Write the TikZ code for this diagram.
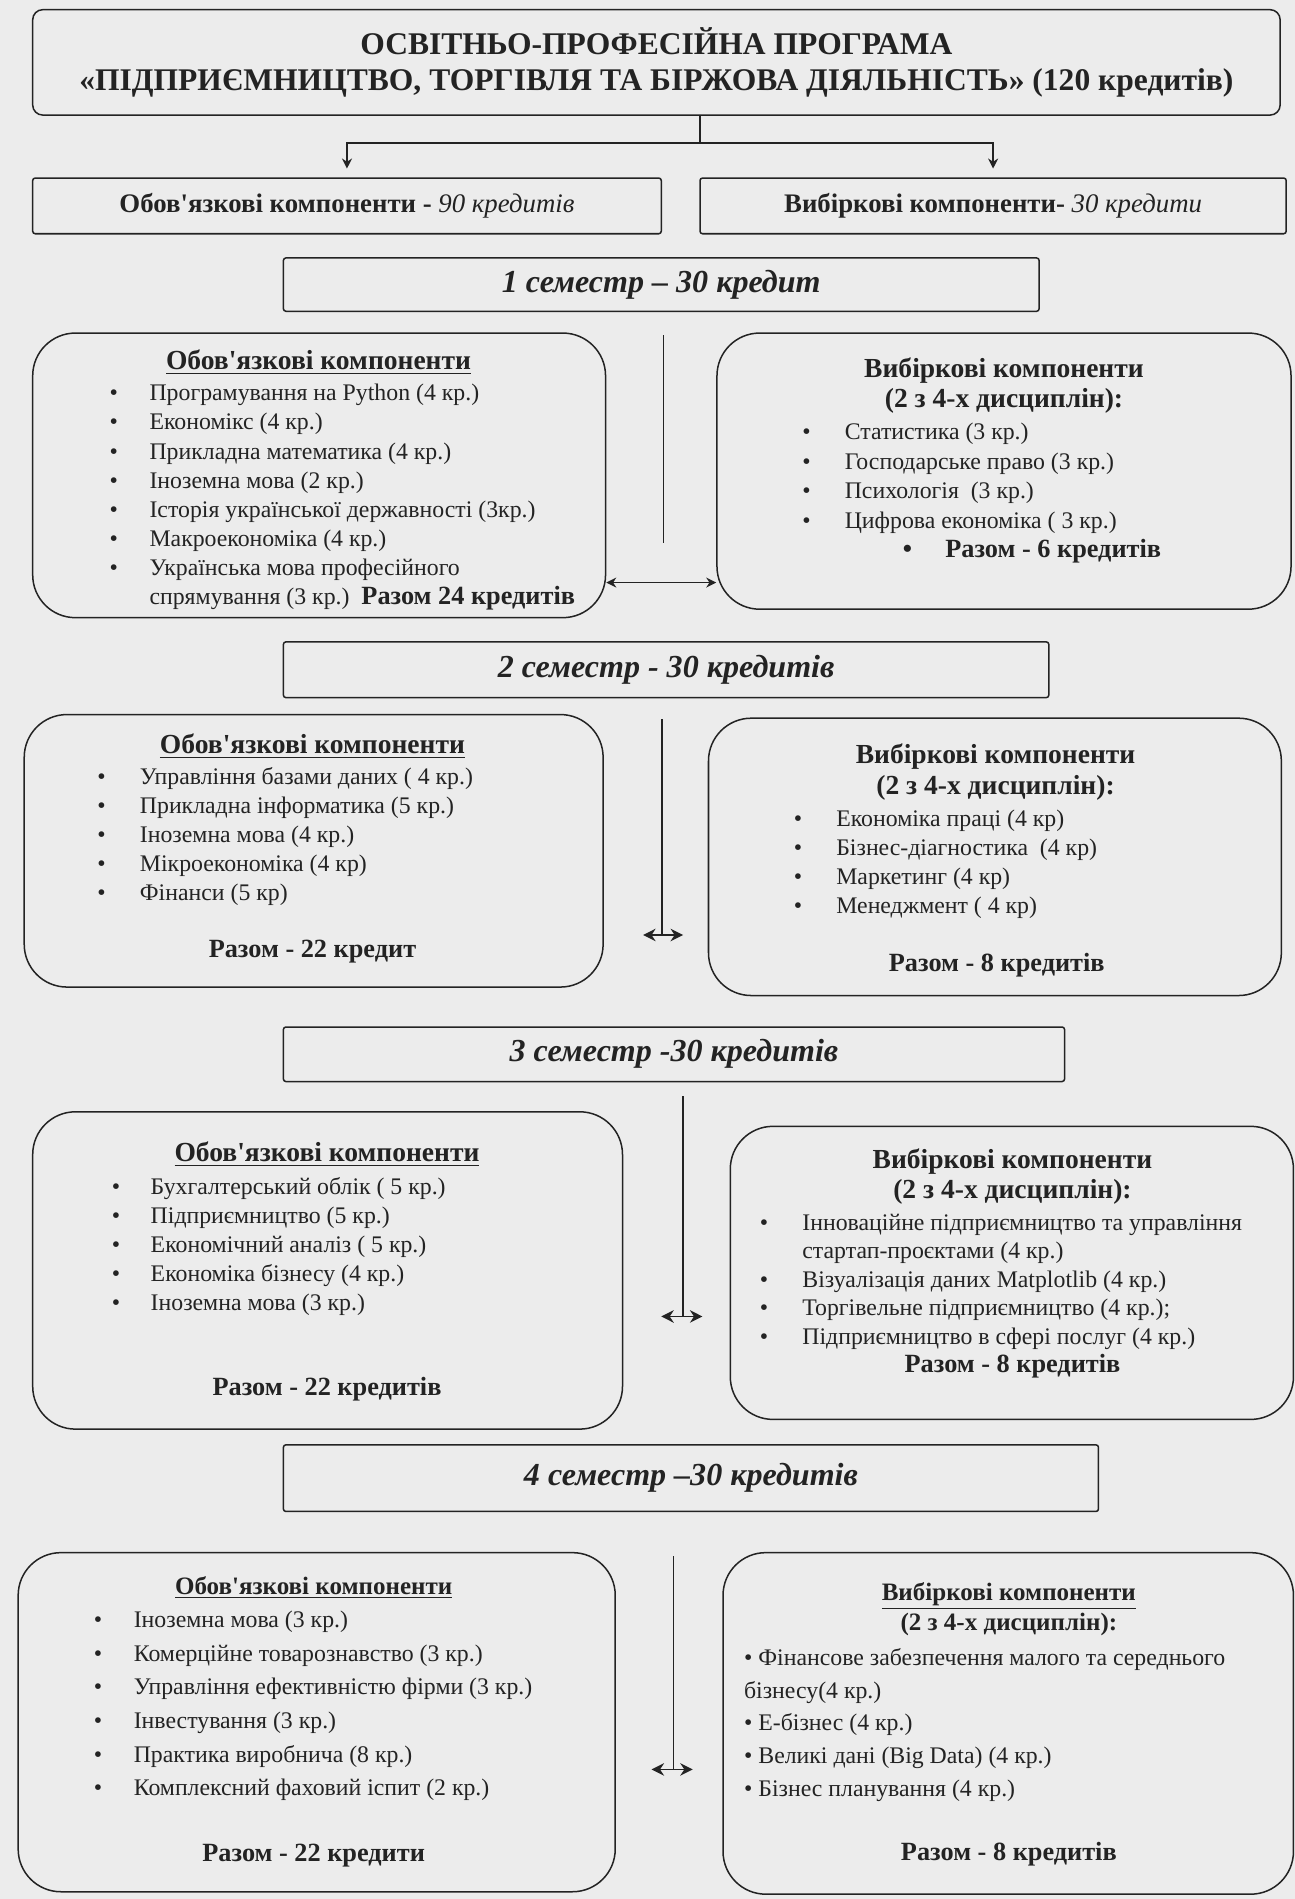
\documentclass[tikz,border=0pt]{standalone}
\usepackage{fontspec}
\setmainfont{Liberation Serif}
\usetikzlibrary{arrows.meta}

\definecolor{paper}{RGB}{236,236,236}
\definecolor{ink}{RGB}{35,35,35}
\newcommand{\itm}[2][16pt]{\makebox[#1][l]{\textbullet}#2}

\begin{document}
\begin{tikzpicture}[x=0.017cm,y=-0.017cm,>={Stealth[length=4pt,width=4pt]},
    every node/.style={inner sep=0pt,text=ink},
    sized/.style 2 args={minimum width=#1*0.017cm,minimum height=#2*0.017cm},
    frame/.style={draw=ink,line width=0.6pt},
    bar/.style={frame,rounded corners=1pt,font=\fontsize{10.7}{12}\selectfont},
    sembar/.style={frame,rounded corners=1pt,font=\fontsize{12.8}{14}\selectfont\bfseries\itshape},
    card/.style={frame,rounded corners=0.6cm},
    head/.style={align=center,font=\fontsize{11}{12}\selectfont\bfseries},
    lst/.style={anchor=north west,align=left,font=\fontsize{9.5}{11.6}\selectfont},
    total/.style={font=\fontsize{10.5}{12}\selectfont\bfseries},
    wire/.style={draw=ink,line width=0.6pt},
    swap/.style={wire,{Stealth[length=5pt,width=5pt]}-{Stealth[length=5pt,width=5pt]}}]
    \fill[paper] (0,0) rectangle (1069,1568);

    % title and the two groups of components
    \node[frame,rounded corners=0.14cm,sized={1030}{87},align=center,
        font=\fontsize{12.6}{14.5}\selectfont\bfseries] (title) at (542,51.5)
        {ОСВІТНЬО-ПРОФЕСІЙНА ПРОГРАМА\\
         «ПІДПРИЄМНИЦТВО, ТОРГІВЛЯ ТА БІРЖОВА ДІЯЛЬНІСТЬ» (120 кредитів)};
    \node[bar,sized={519}{46}] (oblig) at (286.5,170)
        {\textbf{Обов\textquotesingle язкові компоненти -} \textit{90 кредитів}};
    \node[bar,sized={484}{46}] (elect) at (820,170)
        {\textbf{Вибіркові компоненти-} \textit{30 кредити}};
    \coordinate (split) at (578,118);
    \draw[wire] (split |- title.south) -- (split);
    \draw[wire,->,shorten >=3.5pt] (split) -| (oblig.north);
    \draw[wire,->,shorten >=3.5pt] (split) -| (elect.north);

    % semester 1
    \node[sembar,sized={624}{44}] (sem1) at (546,235) {1 семестр – 30 кредит};
    \node[card,sized={473}{235}] (s1l) at (263.5,392.5) {};
    \node[card,sized={474}{228}] (s1r) at (829,389) {};
    \node[head] (h1l) at (263,299) {\underline{Обов\textquotesingle язкові компоненти}};
    \node[lst] (l1l) at (90,317) {\itm{Програмування на Python (4 кр.)}\\
        \itm{Економікс (4 кр.)}\\
        \itm{Прикладна математика (4 кр.)}\\
        \itm{Іноземна мова (2 кр.)}\\
        \itm{Історія української державності (3кр.)}\\
        \itm{Макроекономіка (4 кр.)}\\
        \itm{Українська мова професійного}\\
        \hspace*{16pt}спрямування (3 кр.)\ \ {\fontsize{10.5}{11.6}\selectfont\bfseries Разом 24 кредитів}};
    \node[head,font=\fontsize{11}{12.1}\selectfont\bfseries] (h1r) at (829,318.5)
        {Вибіркові компоненти\\(2 з 4-х дисциплін):};
    \node[lst,font=\fontsize{9.5}{11.8}\selectfont] (l1r) at (662,349)
        {\itm[17pt]{Статистика (3 кр.)}\\
        \itm[17pt]{Господарське право (3 кр.)}\\
        \itm[17pt]{Психологія\ \ (3 кр.)}\\
        \itm[17pt]{Цифрова економіка ( 3 кр.)}};
    \node[total,anchor=west] (t1r) at (745,455) {\itm[17pt]{Разом - 6 кредитів}};
    \coordinate (v1a) at (548,277);
    \coordinate (v1b) at (548,448);
    \coordinate (m1) at (548,481);
    \draw[wire] (v1a) -- (v1b);
    \draw[wire,<->] (s1l.east |- m1) -- (s1r.west |- m1);

    % semester 2
    \node[sembar,sized={632}{46}] (sem2) at (550,553) {2 семестр - 30 кредитів};
    \node[card,sized={478}{225}] (s2l) at (259,702.5) {};
    \node[card,sized={473}{229}] (s2r) at (821.5,707.5) {};
    \node[head] (h2l) at (258,616) {\underline{Обов\textquotesingle язкові компоненти}};
    \node[lst] (l2l) at (80,633) {\itm[17pt]{Управління базами даних ( 4 кр.)}\\
        \itm[17pt]{Прикладна інформатика (5 кр.)}\\
        \itm[17pt]{Іноземна мова (4 кр.)}\\
        \itm[17pt]{Мікроекономіка (4 кр)}\\
        \itm[17pt]{Фінанси (5 кр)}};
    \node[total] (t2l) at (258,786) {Разом - 22 кредит};
    \node[head,font=\fontsize{11}{12.1}\selectfont\bfseries] (h2r) at (822,637.5)
        {Вибіркові компоненти\\(2 з 4-х дисциплін):};
    \node[lst] (l2r) at (655,668) {\itm[17pt]{Економіка праці (4 кр)}\\
        \itm[17pt]{Бізнес-діагностика\ \ (4 кр)}\\
        \itm[17pt]{Маркетинг (4 кр)}\\
        \itm[17pt]{Менеджмент ( 4 кр)}};
    \node[total] (t2r) at (823,797) {Разом - 8 кредитів};
    \coordinate (v2a) at (546.5,594);
    \coordinate (v2b) at (546.5,772);
    \coordinate (a2l) at (531,772);
    \coordinate (a2r) at (564,772);
    \draw[wire] (v2a) -- (v2b);
    \draw[swap] (a2l) -- (a2r);

    % semester 3
    \node[sembar,sized={645}{45}] (sem3) at (556.5,870.5) {3 семестр -30 кредитів};
    \node[card,sized={487}{262}] (s3l) at (270.5,1049) {};
    \node[card,sized={465}{242}] (s3r) at (835.5,1051) {};
    \node[head] (h3l) at (270,953) {\underline{Обов\textquotesingle язкові компоненти}};
    \node[lst] (l3l) at (92,972) {\itm[15.5pt]{Бухгалтерський облік ( 5 кр.)}\\
        \itm[15.5pt]{Підприємництво (5 кр.)}\\
        \itm[15.5pt]{Економічний аналіз ( 5 кр.)}\\
        \itm[15.5pt]{Економіка бізнесу (4 кр.)}\\
        \itm[15.5pt]{Іноземна мова (3 кр.)}};
    \node[total] (t3l) at (270,1147) {Разом - 22 кредитів};
    \node[head,font=\fontsize{11}{12.1}\selectfont\bfseries] (h3r) at (836,971.5)
        {Вибіркові компоненти\\(2 з 4-х дисциплін):};
    \node[lst,font=\fontsize{9.5}{11.4}\selectfont] (l3r) at (627,1002)
        {\itm[17pt]{Інноваційне підприємництво та управління}\\
        \hspace*{17pt}стартап-проєктами (4 кр.)\\
        \itm[17pt]{Візуалізація даних Matplotlib (4 кр.)}\\
        \itm[17pt]{Торгівельне підприємництво (4 кр.);}\\
        \itm[17pt]{Підприємництво в сфері послуг (4 кр.)}};
    \node[total] (t3r) at (836,1128) {Разом - 8 кредитів};
    \coordinate (v3a) at (564,905);
    \coordinate (v3b) at (564,1087);
    \coordinate (a3l) at (546,1087);
    \coordinate (a3r) at (580,1087);
    \draw[wire] (v3a) -- (v3b);
    \draw[swap] (a3l) -- (a3r);

    % semester 4
    \node[sembar,sized={673}{55}] (sem4) at (570.5,1220.5) {4 семестр –30 кредитів};
    \node[card,sized={493}{280}] (s4l) at (261.5,1422) {};
    \node[card,sized={471}{282}] (s4r) at (832.5,1423) {};
    \node[head,font=\fontsize{10}{12}\selectfont\bfseries] (h4l) at (259,1311)
        {\underline{Обов\textquotesingle язкові компоненти}};
    \node[lst,font=\fontsize{9.5}{13.4}\selectfont] (l4l) at (77,1330)
        {\itm{Іноземна мова (3 кр.)}\\
        \itm{Комерційне товарознавство (3 кр.)}\\
        \itm{Управління ефективністю фірми (3 кр.)}\\
        \itm{Інвестування (3 кр.)}\\
        \itm{Практика виробнича (8 кр.)}\\
        \itm{Комплексний фаховий іспит (2 кр.)}};
    \node[total] (t4l) at (259,1532) {Разом - 22 кредити};
    \node[head,font=\fontsize{10}{12.1}\selectfont\bfseries] (h4r) at (833,1328.5)
        {\underline{Вибіркові компоненти}\\(2 з 4-х дисциплін):};
    \node[lst,font=\fontsize{9.5}{13}\selectfont] (l4r) at (614,1361)
        {\textbullet{} Фінансове забезпечення малого та середнього\\
        бізнесу(4 кр.)\\
        \textbullet{} Е-бізнес (4 кр.)\\
        \textbullet{} Великі дані (Big Data) (4 кр.)\\
        \textbullet{} Бізнес планування (4 кр.)};
    \node[total] (t4r) at (833,1531) {Разом - 8 кредитів};
    \coordinate (v4a) at (556,1285);
    \coordinate (v4b) at (556,1461);
    \coordinate (a4l) at (538,1461);
    \coordinate (a4r) at (572,1461);
    \draw[wire] (v4a) -- (v4b);
    \draw[swap] (a4l) -- (a4r);
\end{tikzpicture}
\end{document}
